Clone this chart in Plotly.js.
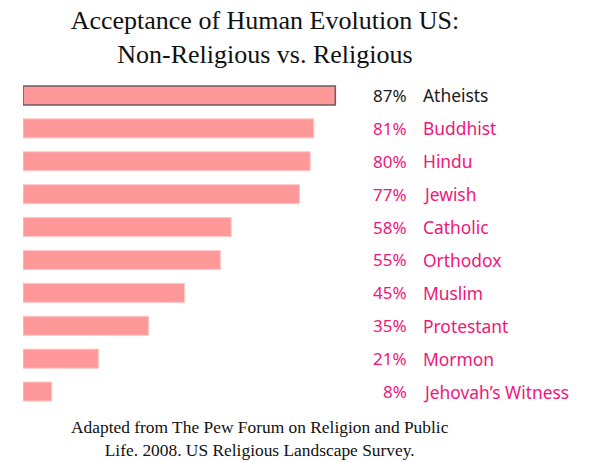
<!DOCTYPE html>
<html><head><meta charset="utf-8">
<script src="https://cdn.plot.ly/plotly-3.0.1.min.js"></script>
<style>html,body{margin:0;padding:0;background:#fff}#chart{width:590px;height:462px}</style>
</head><body><div id="chart"></div>
<script>
const groups = ["Atheists","Buddhist","Hindu","Jewish","Catholic","Orthodox","Muslim","Protestant","Mormon","Jehovah\u2019s Witness"];
const acceptance = [87,81,80,77,58,55,45,35,21,8];

const magenta = "#F0167A";
const lineColors = groups.map((g,i)=> i===0 ? "#6E5C5C" : "#FFC8C8");
const lineWidths = groups.map((g,i)=> i===0 ? 1.5 : 1);

const trace = {
  type: "bar", orientation: "h",
  x: acceptance, y: groups,
  marker: {color: "#FF9999", line: {color: lineColors, width: lineWidths}},
  width: 0.58, hoverinfo: "skip"
};

const annotations = [];
groups.forEach((g,i)=>{
  const col = i===0 ? "#1a1a1a" : magenta;
  annotations.push({xref:"paper", yref:"y", x:1.0764, y:g, xanchor:"right", yanchor:"middle",
    text: acceptance[i] + "%", showarrow:false, font:{family:"Noto Sans, sans-serif", size:17, color:col}});
  annotations.push({xref:"paper", yref:"y", x:1.1099, y:g, xanchor:"left", yanchor:"middle",
    text: g, showarrow:false, font:{family:"Noto Sans, sans-serif", size:17.4, color:col}});
});
annotations.push({xref:"paper", yref:"paper", x:0.661, y:-0.02, xanchor:"center", yanchor:"top",
  text:"Adapted from The Pew Forum on Religion and Public<br>Life. 2008. US Religious Landscape Survey.",
  showarrow:false, font:{family:"Liberation Serif, serif", size:17.4, color:"#111"}});

const layout = {
  width: 590, height: 462,
  margin: {l:23, r:208.4, t:78.6, b:54.4, pad:0},
  paper_bgcolor: "#fff", plot_bgcolor: "#fff",
  title: {text:"Acceptance of Human Evolution US:<br>Non-Religious vs. Religious",
    x: 0.449, xanchor:"center", xref:"container", y: 0.937, yref:"container", yanchor:"top",
    font:{family:"Liberation Serif, serif", size:26, color:"#111"}},
  xaxis: {range:[0,100], showgrid:false, zeroline:false, showticklabels:false, showline:false, fixedrange:true},
  yaxis: {autorange:"reversed", showgrid:false, zeroline:false, showticklabels:false, showline:false, fixedrange:true},
  showlegend: false,
  annotations: annotations
};
Plotly.newPlot("chart", [trace], layout, {displayModeBar:false, staticPlot:true});
</script></body></html>
